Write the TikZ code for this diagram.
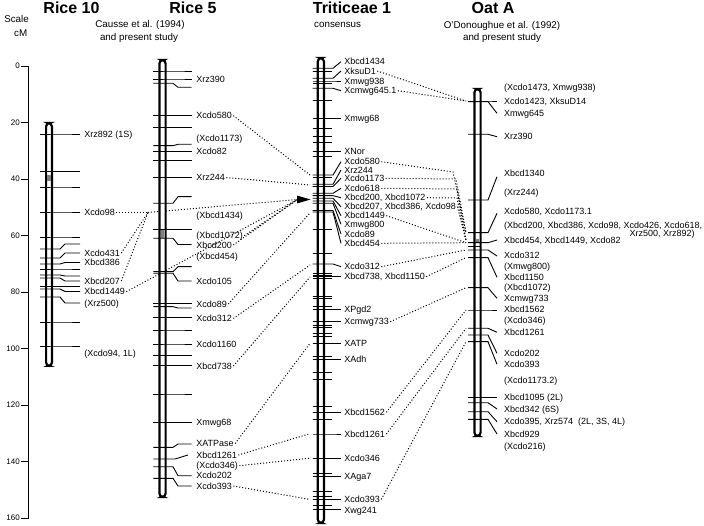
\documentclass[tikz,border=0pt]{standalone}
\usepackage{fontspec}
\setmainfont{Liberation Sans}
\usetikzlibrary{backgrounds}
% tick: from xa to xb at y1, bend to (xc,y2), then on to xd
\newcommand\mtick[6]{\draw[tk] (#1,#5) -- (#2,#5) -- (#3,#6) -- (#4,#6);}
\begin{document}
\begin{tikzpicture}[x=1pt,y=-1pt,
  lab/.style={font=\fontsize{9}{10}\selectfont, inner sep=1.2pt, anchor=west, text height=6.4pt, text depth=0pt},
  ttl/.style={font=\fontsize{16}{18}\selectfont\bfseries, inner sep=0pt, anchor=base},
  sub/.style={font=\fontsize{9.8}{11}\selectfont, inner sep=0pt, anchor=base},
  scl/.style={font=\fontsize{8}{9}\selectfont, inner sep=0pt, anchor=east, text height=5.8pt, text depth=0pt},
  tk/.style={line width=0.9pt},
  dot/.style={line width=1pt, dash pattern=on 1pt off 2pt},
  chrom/.style={line width=2.2pt, fill=white, rounded corners=3.4pt},
  cen/.style={fill=black!50},
]
\useasboundingbox (0,0) rectangle (704,526);

% ---------- headings ----------
\node[sub, anchor=base east] (sclA) at (29,23) {Scale};
\node[sub, anchor=base east] (sclB) at (27.5,37) {cM};
\node[ttl] (tR10) at (71.5,13.5) {Rice 10};
\node[ttl] (tR5) at (193,13.5) {Rice 5};
\node[ttl] (tTr) at (352,13.5) {Triticeae 1};
\node[ttl] (tOat) at (493,13.5) {Oat A};
\node[sub] (sR1) at (140,28) {Causse et al. (1994)};
\node[sub] (sR2) at (139,40.5) {and present study};
\node[sub, anchor=base west] (sT) at (314,28) {consensus};
\node[sub] (sO1) at (502,28.5) {O'Donoughue et al. (1992)};
\node[sub] (sO2) at (502,40.5) {and present study};

% ---------- scale ----------
\draw[tk] (28.5,66) -- (28.5,518);
\foreach \v in {0,20,...,160}{
  \draw[tk] (21,66+2.825*\v) -- (28.5,66+2.825*\v);
  \node[scl] (s\v) at (20,66+2.825*\v) {\v};
}

% ---------- chromosome bars ----------
\draw[chrom] (46.1,123.1) rectangle (51.9,365.9);
\draw[chrom] (159.4,60.1) rectangle (165.6,496.9);
\draw[chrom] (317.8,58.1) rectangle (323.9,522.9);
\draw[chrom] (474.4,89.1) rectangle (480.6,435.9);
\fill[cen] (47.3,175) rectangle (50.7,181);
\fill[cen] (160.6,230) rectangle (164.4,238);
\fill[cen] (475.6,239) rectangle (479.4,243.5);
\coordinate (arr) at (297.5,199.5);
\fill (297,195.5) -- (297,203.5) -- (310.5,199.5) -- cycle;

% ---------- Rice 10 ----------
\def\rA#1#2{\mtick{40}{60}{65}{80}{#1}{#2}}
\rA{134}{134} \rA{171.5}{171.5} \rA{187}{187} \rA{212}{212} \rA{237}{237}
\rA{249}{244} \rA{258}{253} \rA{264}{262.5} \rA{269}{269} \rA{275}{276}
\rA{278}{281} \rA{286.5}{286.5} \rA{289}{291.5} \rA{297}{303} \rA{322}{322} \rA{346}{346}
\node[lab] (r10rz892) at (83,134) {Xrz892 (1S)};
\node[lab] (r10cdo98) at (83,212.5) {Xcdo98};
\node[lab] (r10cdo431) at (83,253) {Xcdo431};
\node[lab] (r10bcd386) at (83,262.7) {Xbcd386};
\node[lab] (r10bcd207) at (83,281) {Xbcd207};
\node[lab] (r10bcd1449) at (83,291.7) {Xbcd1449};
\node[lab] (r10rz500) at (83,303) {(Xrz500)};
\node[lab] (r10cdo94) at (83,353) {(Xcdo94, 1L)};

% ---------- Rice 5 ----------
\def\rB#1#2{\mtick{153.3}{173}{178}{191.7}{#1}{#2}}
\rB{71}{71} \rB{79}{79} \rB{83.3}{87.3} \rB{115.7}{115.7} \rB{127.3}{127.3}
\rB{145.7}{144.3} \rB{151.2}{151.2} \rB{160.7}{160.7} \rB{177.5}{177.5}
\rB{203.3}{196.7} \rB{229.3}{229.3} \rB{238.3}{244.5} \rB{271.7}{266.7}
\rB{273.3}{281} \rB{303.3}{303.3} \rB{306.7}{308} \rB{317.5}{317.5} \rB{330}{330}
\rB{344}{344} \rB{355.7}{355.7} \rB{365.5}{365.5} \rB{394}{394} \rB{422.7}{422.7}
\rB{447.3}{444} \mtick{153.3}{175}{188}{188}{459}{455}
\rB{466.7}{475.7} \rB{478.3}{486}
\node[lab] (r5rz390) at (195,79) {Xrz390};
\node[lab] (r5cdo580) at (195,115.7) {Xcdo580};
\node[lab] (r5cdo1173) at (195,138.3) {(Xcdo1173)};
\node[lab] (r5cdo82) at (195,151.7) {Xcdo82};
\node[lab] (r5rz244) at (195,177.5) {Xrz244};
\node[lab] (r5bcd1434) at (195,215.7) {(Xbcd1434)};
\node[lab] (r5bcd1072) at (195,235.7) {(Xbcd1072)};
\node[lab] (r5bcd200) at (195,245) {Xbcd200};
\node[lab] (r5bcd454) at (195,256) {(Xbcd454)};
\node[lab] (r5cdo105) at (195,281) {Xcdo105};
\node[lab] (r5cdo89) at (195,304) {Xcdo89};
\node[lab] (r5cdo312) at (195,318.5) {Xcdo312};
\node[lab] (r5cdo1160) at (195,344.5) {Xcdo1160};
\node[lab] (r5bcd738) at (195,366) {Xbcd738};
\node[lab] (r5mwg68) at (195,422.7) {Xmwg68};
\node[lab] (r5atpase) at (195,443.5) {XATPase};
\node[lab] (r5bcd1261) at (195,455) {Xbcd1261};
\node[lab] (r5cdo346) at (195,465.7) {(Xcdo346)};
\node[lab] (r5cdo202) at (195,475.7) {Xcdo202};
\node[lab] (r5cdo393) at (195,486) {Xcdo393};

% ---------- Triticeae 1 ----------
\def\tL#1#2{\mtick{312.7}{333}{341}{341}{#1}{#2}}
\def\tS#1{\draw[tk] (312.7,#1) -- (332,#1);}
\tL{68.3}{61.7} \tS{71} \tL{78.3}{71} \tL{81}{81} \tS{83.3} \tL{88.3}{90.7}
\tS{100} \tL{118.3}{118.3} \tS{128.3} \tS{136.7} \tS{142.7} \tL{151.2}{151.2} \tS{156.7}
\tL{175}{161.7} \tS{177} \tL{184.3}{170} \tL{186.5}{178.3} \tL{193.3}{188.3}
\tL{195.7}{197.7} \tL{198.3}{206.7} \tL{201}{215.7} \tL{203.3}{224.3}
\tL{210.5}{234} \tL{212}{243.3}
\tS{229.3} \tS{253.3} \tL{264}{266.7} \tS{273.3} \tS{275} \tL{276.7}{276.7} \tS{278.3}
\tS{296.7} \tS{298.3} \tS{306.7} \tL{309.3}{309.3} \tL{321.7}{321.7} \tS{325} \tS{327.3}
\tS{333.3} \tS{336} \tL{343.3}{343.3} \tS{356.7} \tL{359.3}{359.3} \tS{372.3} \tS{379.3}
\tS{406.7} \tL{412.3}{412.3} \tS{419} \tL{434}{434} \tL{458.3}{458.3} \tS{473.3}
\tL{476.2}{476.2} \tS{491.7} \tS{496.7} \tL{499.3}{499.3} \tS{505.7} \tL{509.5}{509.5}
\node[lab] (tbcd1434) at (343,61.7) {Xbcd1434};
\node[lab] (tksud1) at (343,71) {XksuD1};
\node[lab] (tmwg938) at (343,81) {Xmwg938};
\node[lab] (tcmwg645) at (343,90.7) {Xcmwg645.1};
\node[lab] (tmwg68) at (343,118.3) {Xmwg68};
\node[lab] (tnor) at (343,151) {XNor};
\node[lab] (tcdo580) at (343,161.7) {Xcdo580};
\node[lab] (trz244) at (343,170) {Xrz244};
\node[lab] (tcdo1173) at (343,178.3) {Xcdo1173};
\node[lab] (tcdo618) at (343,188.3) {Xcdo618};
\node[lab] (tbcd200) at (343,197.7) {Xbcd200, Xbcd1072};
\node[lab] (tbcd207) at (343,206.7) {Xbcd207, Xbcd386, Xcdo98};
\node[lab] (tbcd1449) at (343,215.7) {Xbcd1449};
\node[lab] (tmwg800) at (343,224.3) {Xmwg800};
\node[lab] (tcdo89) at (343,234) {Xcdo89};
\node[lab] (tbcd454) at (343,243.3) {Xbcd454};
\node[lab] (tcdo312) at (343,266.7) {Xcdo312};
\node[lab] (tbcd738) at (343,276.7) {Xbcd738, Xbcd1150};
\node[lab] (tpgd2) at (343,309.3) {XPgd2};
\node[lab] (tcmwg733) at (343,321.7) {Xcmwg733};
\node[lab] (tatp) at (343,343.3) {XATP};
\node[lab] (tadh) at (343,359.3) {XAdh};
\node[lab] (tbcd1562) at (343,412.3) {Xbcd1562};
\node[lab] (tbcd1261) at (343,434) {Xbcd1261};
\node[lab] (tcdo346) at (343,458.3) {Xcdo346};
\node[lab] (taga7) at (343,476) {XAga7};
\node[lab] (tcdo393) at (343,499.3) {Xcdo393};
\node[lab] (twg241) at (343,509.8) {Xwg241};

% ---------- Oat A ----------
\def\oL#1#2{\mtick{468}{488}{497}{497}{#1}{#2}}
\def\oS#1{\draw[tk] (468,#1) -- (480,#1);}
\oL{101}{101} \oL{101.7}{113.3} \oL{134.3}{136.7} \oL{200}{176.7} \oL{232.7}{213.3}
\oL{242.7}{240} \oS{246} \oL{250}{256} \oL{257.7}{277.3} \oL{287.7}{298.3}
\oL{310}{310} \oL{328.3}{332.3} \oL{335}{353.3} \oL{341.7}{364.3}
\oL{397.3}{397.3} \oL{402.7}{409} \oL{411.7}{421.7} \oL{419.3}{434}
\node[lab] (o1473) at (502.7,87.3) {(Xcdo1473, Xmwg938)};
\node[lab] (o1423) at (502.7,101.5) {Xcdo1423, XksuD14};
\node[lab] (o645) at (502.7,113.3) {Xmwg645};
\node[lab] (o390) at (502.7,136.7) {Xrz390};
\node[lab] (o1340) at (502.7,173.3) {Xbcd1340};
\node[lab] (o244) at (502.7,192.7) {(Xrz244)};
\node[lab] (o580) at (502.7,211.7) {Xcdo580, Xcdo1173.1};
\node[lab] (o200) at (502.7,225) {(Xbcd200, Xbcd386, Xcdo98, Xcdo426, Xcdo618,};
\node[lab, anchor=east] (o500) at (696,233.3) {Xrz500, Xrz892)};
\node[lab] (o454) at (502.7,240) {Xbcd454, Xbcd1449, Xcdo82};
\node[lab] (o312) at (502.7,255.5) {Xcdo312};
\node[lab] (o800) at (502.7,266.7) {(Xmwg800)};
\node[lab] (o1150) at (502.7,277.3) {Xbcd1150};
\node[lab] (o1072) at (502.7,287.7) {(Xbcd1072)};
\node[lab] (o733) at (502.7,298.3) {Xcmwg733};
\node[lab] (o1562) at (502.7,309.5) {Xbcd1562};
\node[lab] (o346) at (502.7,320.7) {(Xcdo346)};
\node[lab] (o1261) at (502.7,332.3) {Xbcd1261};
\node[lab] (o202) at (502.7,353.3) {Xcdo202};
\node[lab] (o393) at (502.7,364.3) {Xcdo393};
\node[lab] (o11732) at (502.7,380.7) {(Xcdo1173.2)};
\node[lab] (o1095) at (502.7,397) {Xbcd1095 (2L)};
\node[lab] (o342) at (502.7,409) {Xbcd342 (6S)};
\node[lab] (o395) at (502.7,421.7) {Xcdo395, Xrz574\ \ (2L, 3S, 4L)};
\node[lab] (o929) at (502.7,434) {Xbcd929};
\node[lab] (o216) at (502.7,446.7) {(Xcdo216)};

% ---------- homology connectors ----------
\begin{scope}[on background layer]
  % Rice 10
  \coordinate (r10m) at (148,212.5);
  \draw[dot] (r10cdo98.east) -- (r10m);
  \draw[dot] (r10cdo431.east) -- (r10m);
  \draw[dot] (r10bcd207.east) -- (r10m);
  \draw[dot] (r10m) -- (arr);
  \draw[dot] (r10bcd1449.east) -- (arr);
  % Rice 5 to Triticeae 1
  \coordinate (ta175) at (310,175);
  \coordinate (ta184) at (310,185);
  \coordinate (ta212) at (310,213);
  \coordinate (ta265) at (310,265);
  \coordinate (ta277) at (310,277);
  \coordinate (ta343) at (310,343.3);
  \coordinate (ta434) at (309,434);
  \coordinate (ta458) at (309,458.3);
  \coordinate (ta499) at (309,499.3);
  \draw[dot] (r5cdo580.east) -- (ta175);
  \draw[dot] (r5rz244.east) -- (ta184);
  \draw[dot] (r5bcd1072.east) -- (arr);
  \draw[dot] (r5bcd200.east) -- (arr);
  \draw[dot] (r5cdo89.east) -- (ta212);
  \draw[dot] (r5cdo312.east) -- (ta265);
  \draw[dot] (r5bcd738.east) -- (ta277);
  \draw[dot] (r5atpase.east) -- (ta343);
  \draw[dot] (r5bcd1261.east) -- (ta434);
  \draw[dot] (r5cdo346.east) -- (ta458);
  \draw[dot] (r5cdo393.east) -- (ta499);
  % Triticeae 1 to Oat A
  \coordinate (oa101) at (466,101);
  \coordinate (oa232) at (466,232.7);
  \coordinate (oa240) at (466,240.5);
  \coordinate (oa243) at (466,242.7);
  \coordinate (oa250) at (466,250);
  \coordinate (oa258) at (466,257.7);
  \coordinate (oa288) at (466,287.7);
  \coordinate (oa310) at (466,310);
  \coordinate (oa328) at (466,328.3);
  \coordinate (oa342) at (466,341.7);
  \coordinate (k580) at (453,172);
  \coordinate (k1173) at (456,179);
  \coordinate (k618) at (457,189);
  \coordinate (k200) at (457,198);
  \draw[dot] (tksud1.east) -- (oa101);
  \draw[dot] (tcmwg645.east) -- (oa101);
  \draw[dot] (tcdo580.east) -- (k580) -- (oa232);
  \draw[dot] (tcdo1173.east) -- (k1173) -- (oa232);
  \draw[dot] (tcdo618.east) -- (k618) -- (oa240);
  \draw[dot] (tbcd200.east) -- (k200) -- (oa240);
  \draw[dot] (tbcd207.east) -- (oa240);
  \draw[dot] (tbcd1449.east) -- (oa243);
  \draw[dot] (tbcd454.east) -- (oa243);
  \draw[dot] (tcdo312.east) -- (oa250);
  \draw[dot] (tbcd738.east) -- (oa258);
  \draw[dot] (tcmwg733.east) -- (oa288);
  \draw[dot] (tbcd1562.east) -- (oa310);
  \draw[dot] (tbcd1261.east) -- (oa328);
  \draw[dot] (tcdo393.east) -- (oa342);
\end{scope}
\end{tikzpicture}
\end{document}
